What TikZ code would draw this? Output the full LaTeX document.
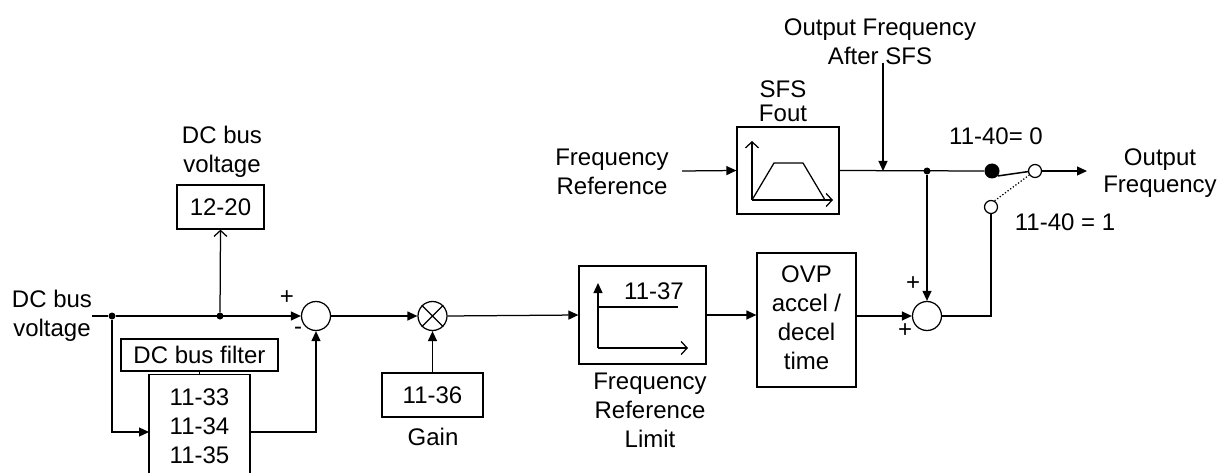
\documentclass[tikz,border=0pt]{standalone}
\usepackage{fontspec}
\setmainfont{Liberation Sans}
\usetikzlibrary{arrows.meta}
\newcommand\mlines[1]{\begin{tabular}[t]{@{}c@{}}#1\end{tabular}}
\begin{document}
\begin{tikzpicture}[x=1pt,y=-1pt,
  every node/.style={font=\fontsize{24}{29}\selectfont, inner sep=0pt},
  lw/.style={line width=1.25pt},
  box/.style={draw, line width=1.25pt},
  sumc/.style={circle, draw, line width=1.25pt, minimum size=29pt, inner sep=0pt},
  dot/.style={circle, fill, minimum size=7pt, inner sep=0pt},
  arr/.style={-{Triangle[length=10pt,width=9pt]}},
  oarr/.style={-{Straight Barb[length=6pt,width=13pt]}},
  lbl/.style={anchor=base}]
\useasboundingbox (0,0) rectangle (1231,473);
\clip (0,0) rectangle (1231,473);

% ---------- left part ----------
\coordinate (in) at (92,316);
\node[dot] (d1) at (112,316) {};
\node[dot] (d2) at (220,316) {};
\node[box, minimum width=87pt, minimum height=44pt] (b1220) at (220.5,207) {12-20};
\node[lbl] (lblDCtop) at (222,144) {\mlines{DC bus\\voltage}};
\node[lbl] (lblDCin) at (52,307) {\mlines{DC bus\\voltage}};
\node[sumc] (sum1) at (316,316) {};
\node (p1) at (287,298) {+};
\node (m1) at (298,331) {-};
\node[box, minimum width=157pt, minimum height=32pt] (filt) at (199.5,355) {DC bus filter};
\node[box, minimum width=101pt, anchor=north, inner ysep=11pt] (par) at (199.5,374) {\mlines{11-33\\11-34\\11-35}};
\coordinate (pin) at (149,432);
\coordinate (pout) at (250,432);

% ---------- gain / limit ----------
\node[sumc] (mult) at (432.5,316) {};
\node[box, minimum width=101pt, minimum height=44pt] (g1136) at (432.5,395) {11-36};
\node[lbl] (lblGain) at (433,445) {Gain};
\node[box, minimum width=127pt, minimum height=98pt] (frl) at (642.5,315) {};
\node[lbl] (t1137) at (654,299) {11-37};
\coordinate (frlO) at (598,348);
\coordinate (frlY) at (598,283);
\coordinate (frlL1) at (598,307);
\coordinate (frlL2) at (678,307);
\coordinate (frlX) at (688,348);
\node[lbl] (lblFRL) at (650,389) {\mlines{Frequency\\Reference\\Limit}};
\node[box, minimum width=99pt, minimum height=134pt] (ovp) at (806.5,320) {\mlines{OVP\\accel /\\decel\\time}};
\node[sumc] (sum2) at (927,316) {};
\node (p2a) at (913,284) {+};
\node (p2b) at (905,331) {+};

% ---------- top part ----------
\node[lbl] (lblFR) at (612,166) {\mlines{Frequency\\Reference}};
\coordinate (frIn) at (682,171);
\node[box, minimum width=102pt, minimum height=87pt] (sfs) at (788,170.5) {};
\node[lbl, font=\fontsize{24}{22}\selectfont] (lblSFS) at (783,98) {\mlines{SFS\\Fout}};
\node[lbl] (lblOFA) at (880,36) {\mlines{Output Frequency\\After SFS}};
\coordinate (ofaS) at (883,63);
\coordinate (ofaJ) at (883,171);
\node[dot] (d3) at (927,171) {};
\node[circle, fill, minimum size=15pt, inner sep=0pt] (c0) at (992,171) {};
\node[circle, draw, lw, fill=white, minimum size=13pt, inner sep=0pt] (c1) at (1035,171) {};
\node[circle, draw, lw, fill=white, minimum size=13pt, inner sep=0pt] (c2) at (991,207) {};
\node[lbl] (l0) at (996,145) {11-40= 0};
\node[lbl] (l1) at (1065,230) {11-40 = 1};
\node[lbl, font=\fontsize{24}{27}\selectfont] (lblOut) at (1160,166) {\mlines{Output\\Frequency}};
\coordinate (outT) at (1087,171);

% ---------- connectors ----------
\draw[lw] (in) -- (d1);
\draw[lw,arr] (d1) -- (sum1.west);
\draw[lw,oarr] (d2) -- (b1220.south);
\draw[lw,arr] (d1) |- (pin);
\draw[lw,arr] (pout) -| (sum1.south);
\draw[lw] (filt.south) -- (par.north);
\draw[lw,arr] (sum1.east) -- (mult.west);
\draw[lw] (mult.45) -- (mult.225) (mult.135) -- (mult.315);
\draw[lw,arr] (g1136.north) -- (mult.south);
\draw[lw,arr] (mult.east) -- (frl.west);
\draw[lw,arr] (frlO) -- (frlY);
\draw[lw] (frlL1) -- (frlL2);
\draw[lw,oarr] (frlO) -- (frlX);
\draw[lw,arr] (frl.east) -- (frl.east -| ovp.west);
\draw[lw,arr] (ovp.east |- sum2.west) -- (sum2.west);
\draw[lw] (sum2.east) -| (c2.south);
\draw[lw,arr] (frIn) -- (sfs.west);
% SFS curve
\draw[lw,oarr] (752,200) -- (752,141);
\draw[lw,oarr] (752,200) -- (833,200);
\draw[lw] (752,200) -- (774,163) -- (803,163) -- (825,200);
\draw[lw] (sfs.east) -- (c0.west);
\draw[lw,arr] (ofaS) -- (ofaJ);
\draw[lw,arr] (d3) -- (sum2.north);
\draw[line width=1.5pt] (c0.-40) -- (c1.185);
\draw[lw, dotted] (c2.60) -- (c1.215);
\draw[lw,arr] (c1.east) -- (outT);
\end{tikzpicture}
\end{document}
